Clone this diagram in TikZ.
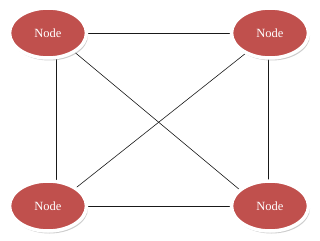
\documentclass[tikz,border=0pt]{standalone}
\usepackage{fontspec}
\setmainfont{Liberation Serif}
\usepackage{tikz}
\usetikzlibrary{shapes.geometric, shadows, backgrounds, calc}
\definecolor{noderot}{HTML}{C0504D}

\begin{document}
\begin{tikzpicture}[
    x=1pt, y=-1pt,
    every node/.style={font=\fontsize{12.5}{14}\selectfont},
    knoten/.style={
        ellipse,
        draw=white,
        line width=3.5pt,
        fill=noderot,
        text=white,
        minimum width=77pt,
        minimum height=50pt,
        drop shadow={shadow xshift=1.5pt, shadow yshift=-2.5pt, fill=black!40}
    },
    kante/.style={
        line width=0.6pt,
        black!90
    }
]
\useasboundingbox (0,0) rectangle (320,240);

\node[knoten] (obenlinks) at (48,33) {Node};
\node[knoten] (obenrechts) at (270,33) {Node};
\node[knoten] (untenlinks) at (48,206) {Node};
\node[knoten] (untenrechts) at (270,206) {Node};

\begin{pgfonlayer}{background}
\draw[kante] (obenlinks) -- (obenrechts);
\draw[kante] (untenlinks) -- (untenrechts);
\draw[kante] ($(obenlinks)+(8,0)$) -- ($(untenlinks)+(8,0)$);
\draw[kante] ($(obenrechts)+(-2,0)$) -- ($(untenrechts)+(-2,0)$);
\draw[kante] ($(obenlinks)+(0,-3)$) -- ($(untenrechts)+(0,9)$);
\draw[kante] ($(untenlinks)+(0,4)$) -- ($(obenrechts)+(0,1)$);
\end{pgfonlayer}

\end{tikzpicture}
\end{document}
